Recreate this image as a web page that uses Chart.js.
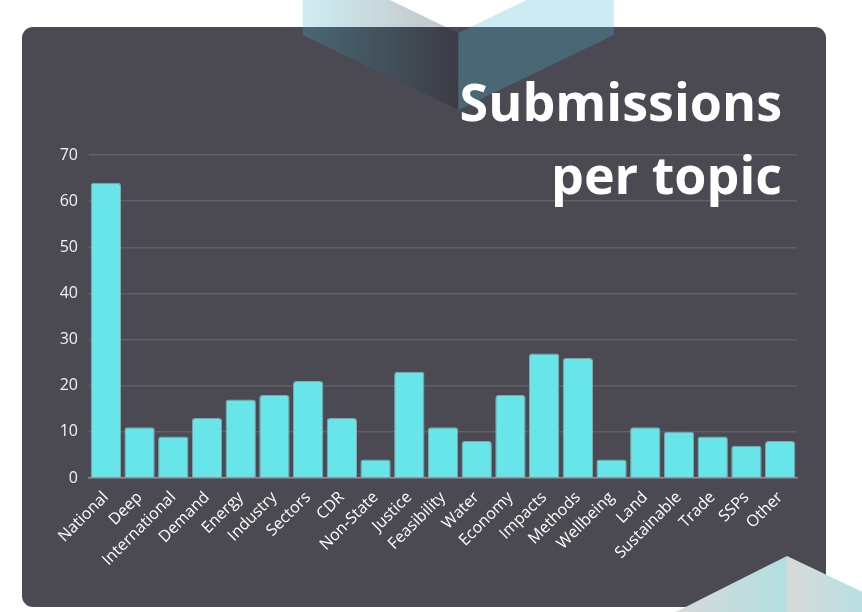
<!DOCTYPE html>
<html>
<head>
<meta charset="utf-8">
<script src="https://cdn.jsdelivr.net/npm/chart.js@4/dist/chart.umd.min.js"></script>
<style>
  html, body { margin: 0; padding: 0; background: #fff; }
  #wrap { position: relative; width: 862px; height: 612px; overflow: hidden; }
  #wrap svg, #wrap canvas { position: absolute; left: 0; top: 0; }
  #overlay { pointer-events: none; }
</style>
</head>
<body>
<div id="wrap">
  <svg id="backdrop" width="862" height="612">
    <defs>
      <linearGradient id="topLeft" x1="302" y1="0" x2="458" y2="0" gradientUnits="userSpaceOnUse">
        <stop offset="0" stop-color="rgb(66,188,208)" stop-opacity="0.26"/>
        <stop offset="1" stop-color="rgb(20,20,30)" stop-opacity="0.26"/>
      </linearGradient>
      <linearGradient id="botLeft" x1="672" y1="0" x2="787" y2="0" gradientUnits="userSpaceOnUse">
        <stop offset="0" stop-color="#d9d9d9"/>
        <stop offset="1" stop-color="#b2dfe1"/>
      </linearGradient>
      <linearGradient id="botRight" x1="787" y1="0" x2="862" y2="0" gradientUnits="userSpaceOnUse">
        <stop offset="0" stop-color="#d9d9d9"/>
        <stop offset="1" stop-color="#b8e0e3"/>
      </linearGradient>
    </defs>
    <rect x="22" y="27" width="804" height="580" rx="11" fill="#4b4a53"/>
    <polygon points="302.7,-42 458.3,33 458.3,110 302.7,35" fill="url(#topLeft)"/>
    <polygon points="613.9,-42 458.3,33 458.3,110 613.9,35" fill="rgb(70,182,206)" fill-opacity="0.27"/>
    <polygon points="787,556 787,640 620,640" fill="url(#botLeft)"/>
    <polygon points="787,556 900,610 900,640 787,640" fill="url(#botRight)"/>
  </svg>
  <canvas id="chart" width="862" height="612"></canvas>
  <svg id="overlay" width="862" height="612">
    <g font-family="'Open Sans', Lato, sans-serif" font-weight="700" font-size="52" fill="#ffffff" text-anchor="end">
      <text x="782" y="121">Submissions</text>
      <text x="782" y="194">per topic</text>
    </g>
  </svg>
</div>
<script>
// submissions per topic
const topics = ['National', 'Deep', 'International', 'Demand', 'Energy', 'Industry', 'Sectors',
  'CDR', 'Non-State', 'Justice', 'Feasibility', 'Water', 'Economy', 'Impacts', 'Methods',
  'Wellbeing', 'Land', 'Sustainable', 'Trade', 'SSPs', 'Other'];
const submissions = [64, 11, 9, 13, 17, 18, 21, 13, 4, 23, 11, 8, 18, 27, 26, 4, 11, 10, 9, 7, 8];
const yTicks = [0, 10, 20, 30, 40, 50, 60, 70];

const fontFamily = '"Open Sans", Lato, sans-serif';

new Chart(document.getElementById('chart'), {
  type: 'bar',
  data: {
    labels: topics,
    datasets: [{
      label: 'Submissions',
      data: submissions,
      backgroundColor: '#68e5e8',
      borderColor: 'rgba(140,175,180,0.9)',
      borderWidth: 1,
      borderRadius: { topLeft: 3, topRight: 3 },
      borderSkipped: 'bottom',
      categoryPercentage: 1.0,
      barPercentage: 0.9
    }]
  },
  options: {
    responsive: false,
    animation: false,
    layout: { padding: { left: 0, right: 65, top: 155, bottom: 0 } },
    plugins: {
      legend: { display: false },
      tooltip: { enabled: false }
    },
    scales: {
      x: {
        grid: { display: false },
        border: { display: true, color: 'rgba(255,255,255,0.32)', width: 1.5 },
        ticks: {
          color: '#ffffff',
          font: { family: fontFamily, size: 16 },
          maxRotation: 45,
          minRotation: 45,
          autoSkip: false,
          padding: 2
        },
        afterFit: s => { s.height = 612 - 478; }
      },
      y: {
        min: 0,
        max: 70,
        afterBuildTicks: s => { s.ticks = yTicks.map(v => ({ value: v })); },
        grid: { color: 'rgba(255,255,255,0.12)', lineWidth: 1.5, tickColor: 'transparent' },
        border: { display: false },
        ticks: { color: '#f2f2f2', font: { family: fontFamily, size: 16 }, padding: 3 },
        afterFit: s => { s.width = 89; }
      }
    }
  }
});
</script>
</body>
</html>
